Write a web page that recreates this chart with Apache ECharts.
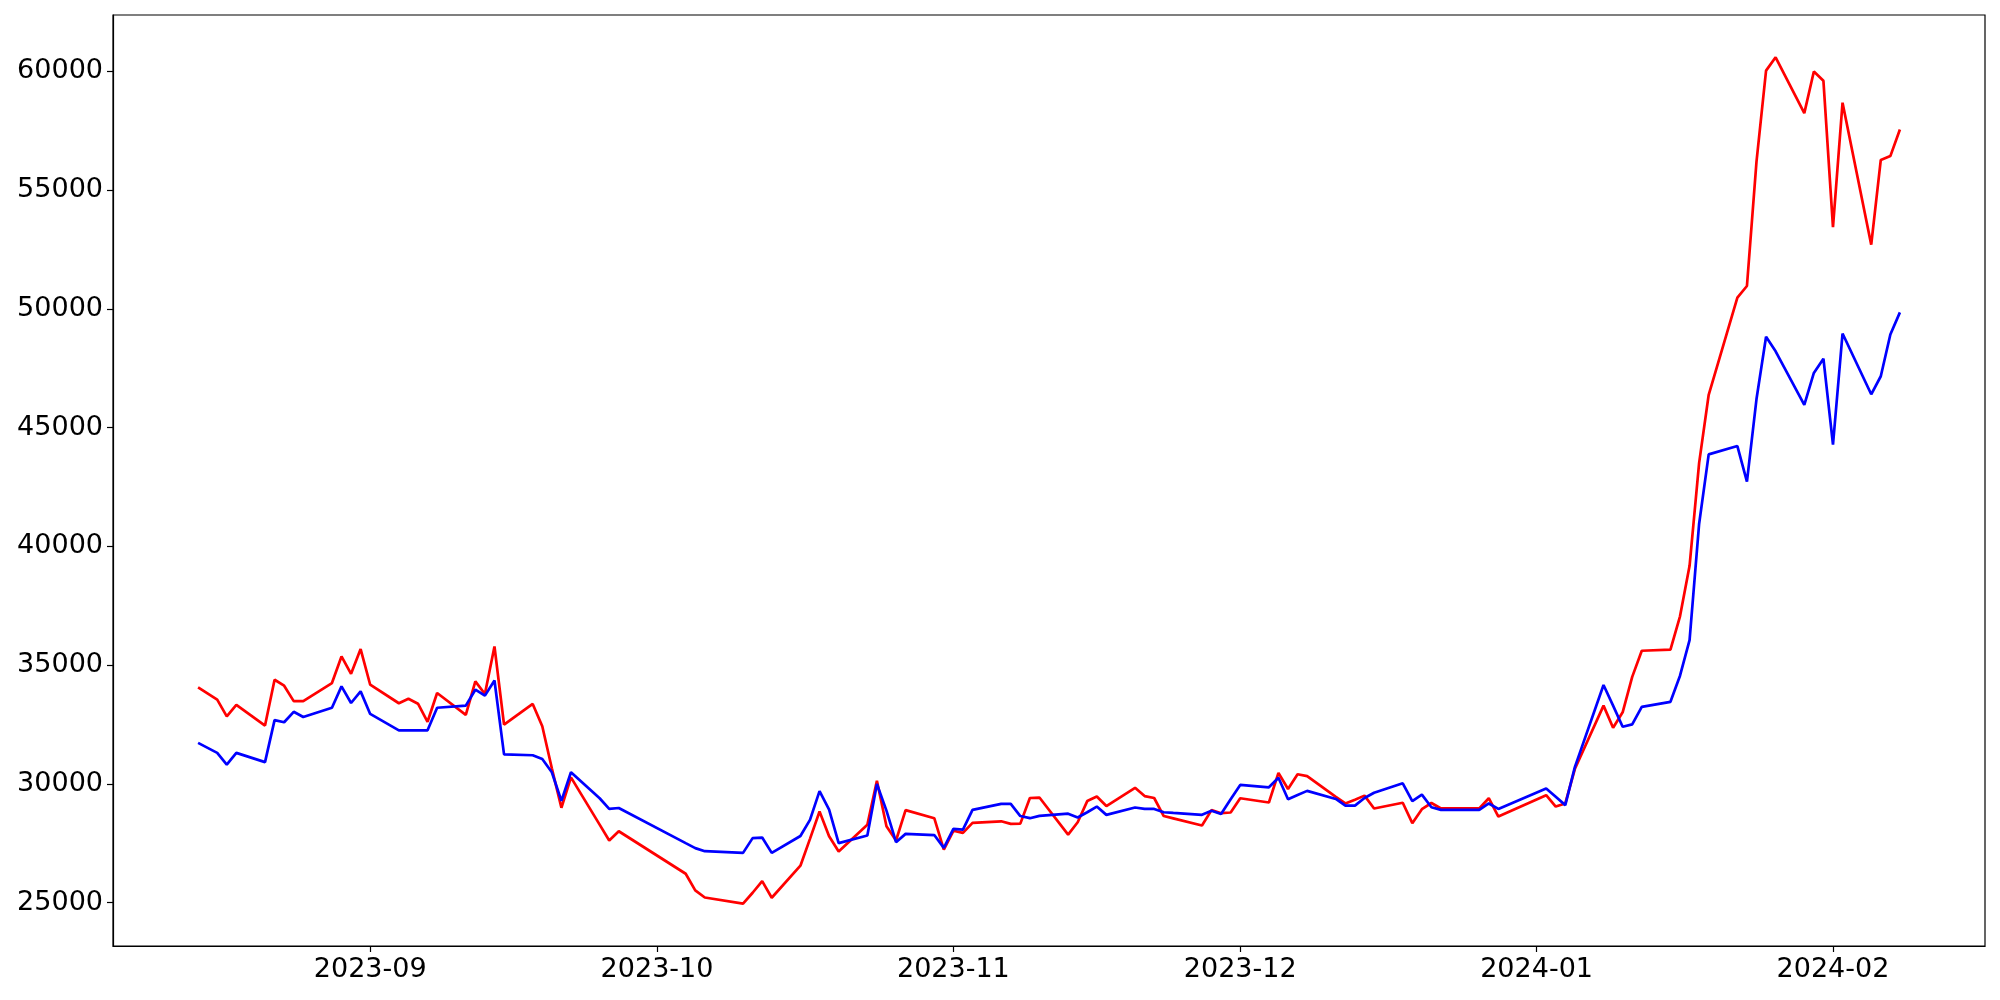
<!DOCTYPE html>
<html>
<head>
<meta charset="utf-8">
<script src="https://cdn.jsdelivr.net/npm/echarts@6/dist/echarts.min.js"></script>
<style>
html,body{margin:0;padding:0;background:#fff;}
#chart{width:2000px;height:1000px;}
</style>
</head>
<body>
<div id="chart"></div>
<script>
const dates = [
'2023-08-14','2023-08-16','2023-08-17','2023-08-18','2023-08-21','2023-08-22','2023-08-23','2023-08-24','2023-08-25','2023-08-28','2023-08-29','2023-08-30','2023-08-31',
'2023-09-01','2023-09-04','2023-09-05','2023-09-06','2023-09-07','2023-09-08','2023-09-11','2023-09-12','2023-09-13','2023-09-14','2023-09-15','2023-09-18','2023-09-19','2023-09-20','2023-09-21','2023-09-22','2023-09-25','2023-09-26','2023-09-27',
'2023-10-04','2023-10-05','2023-10-06','2023-10-10','2023-10-11','2023-10-12','2023-10-13','2023-10-16','2023-10-17','2023-10-18','2023-10-19','2023-10-20','2023-10-23','2023-10-24','2023-10-25','2023-10-26','2023-10-27','2023-10-30','2023-10-31',
'2023-11-01','2023-11-02','2023-11-03','2023-11-06','2023-11-07','2023-11-08','2023-11-09','2023-11-10','2023-11-13','2023-11-14','2023-11-15','2023-11-16','2023-11-17','2023-11-20','2023-11-21','2023-11-22','2023-11-23','2023-11-24','2023-11-27','2023-11-28','2023-11-29','2023-11-30',
'2023-12-01','2023-12-04','2023-12-05','2023-12-06','2023-12-07','2023-12-08','2023-12-11','2023-12-12','2023-12-13','2023-12-14','2023-12-15','2023-12-18','2023-12-19','2023-12-20','2023-12-21','2023-12-22','2023-12-26','2023-12-27','2023-12-28',
'2024-01-02','2024-01-03','2024-01-04','2024-01-05','2024-01-08','2024-01-09','2024-01-10','2024-01-11','2024-01-12','2024-01-15','2024-01-16','2024-01-17','2024-01-18','2024-01-19','2024-01-22','2024-01-23','2024-01-24','2024-01-25','2024-01-26','2024-01-29','2024-01-30','2024-01-31',
'2024-02-01','2024-02-02','2024-02-05','2024-02-06','2024-02-07','2024-02-08'
];
const redValues = [
34060,33540,32840,33320,32450,34380,34130,33480,33480,34240,35360,34630,35670,
34170,33390,33580,33370,32610,33820,32900,34310,33780,35780,32490,33360,32420,30650,28990,30270,28280,27610,28000,
26210,25510,25210,24950,25410,25900,25200,26550,27680,28830,27790,27150,28270,30130,28210,27610,28890,28550,27230,
28020,27930,28350,28420,28310,28320,29400,29420,27860,28380,29270,29460,29060,29830,29480,29400,28640,28540,28240,28890,28760,28790,
29390,29210,30460,29780,30400,30320,29450,29170,29330,29500,28960,29200,28340,28930,29190,28960,28960,29390,28620,
29520,29040,29170,30620,33290,32360,33010,34500,35600,35650,37050,39180,43510,46380,50470,50960,56200,60030,60590,58240,59990,59600,
53440,58680,52700,56270,56430,57550
];
const blueValues = [
31720,31300,30810,31300,30910,32680,32590,33030,32810,33200,34100,33400,33890,
32940,32250,32250,32250,32250,33200,33290,33960,33710,34350,31240,31200,31040,30485,29280,30485,29390,28940,28980,
27500,27290,27160,27090,27710,27735,27090,27800,28480,29690,28910,27500,27820,29990,28870,27540,27890,27840,27300,
28100,28070,28900,29150,29150,28640,28550,28650,28740,28580,28800,29040,28690,29000,28940,28940,28800,28770,28690,28860,28730,29350,
29950,29850,30250,29350,29530,29700,29360,29080,29080,29400,29620,30020,29270,29540,29010,28900,28900,29170,28940,
29800,29450,29100,30700,34160,33290,32400,32500,33240,33450,34550,36050,40950,43870,44220,42720,46200,48820,48210,45950,47300,47900,
44280,48960,46400,47160,48920,49850
];
const yTicks = [25000,30000,35000,40000,45000,50000,55000,60000];
const xTickMonths = ['2023-09','2023-10','2023-11','2023-12','2024-01','2024-02'];

function ts(s){ const p=s.split('-').map(Number); return Date.UTC(p[0], p[1]-1, p[2]||1); }
const xs = dates.map(ts);
const xTicks = xTickMonths.map(ts);
const xSpan = xs[xs.length-1]-xs[0];
const xMin = xs[0]-0.05*xSpan, xMax = xs[xs.length-1]+0.05*xSpan;
const allV = redValues.concat(blueValues);
const vMin = Math.min(...allV), vMax = Math.max(...allV);
const yMin = vMin-0.05*(vMax-vMin), yMax = vMax+0.05*(vMax-vMin);

const chart = echarts.init(document.getElementById('chart'), null, {renderer:'canvas'});
const font = 'DejaVu Sans';
chart.setOption({
  animation:false,
  backgroundColor:'#fff',
  grid:{left:113,right:15,top:15,bottom:54,show:true,borderColor:'#000',borderWidth:1.2,backgroundColor:'transparent'},
  xAxis:{
    type:'value', min:xMin, max:xMax, scale:true,
    axisLine:{show:true,lineStyle:{color:'#000',width:1.2}},
    axisTick:{show:true,length:6,lineStyle:{color:'#000',width:1.2},customValues:xTicks},
    splitLine:{show:false},
    axisLabel:{customValues:xTicks,color:'#000',fontFamily:font,fontSize:27,margin:10,
      formatter:function(v){const d=new Date(v);return d.getUTCFullYear()+'-'+String(d.getUTCMonth()+1).padStart(2,'0');}}
  },
  yAxis:{
    type:'value', min:yMin, max:yMax, scale:true,
    axisLine:{show:true,lineStyle:{color:'#000',width:1.2}},
    axisTick:{show:true,length:6,lineStyle:{color:'#000',width:1.2},customValues:yTicks},
    splitLine:{show:false},
    axisLabel:{customValues:yTicks,color:'#000',fontFamily:font,fontSize:27,margin:10,
      formatter:function(v){return String(Math.round(v));}}
  },
  series:[
    {type:'line',name:'red',data:xs.map((x,i)=>[x,redValues[i]]),showSymbol:false,lineStyle:{color:'#ff0000',width:2.7},itemStyle:{color:'#ff0000'}},
    {type:'line',name:'blue',data:xs.map((x,i)=>[x,blueValues[i]]),showSymbol:false,lineStyle:{color:'#0000ff',width:2.7},itemStyle:{color:'#0000ff'}}
  ]
});
</script>
</body>
</html>
